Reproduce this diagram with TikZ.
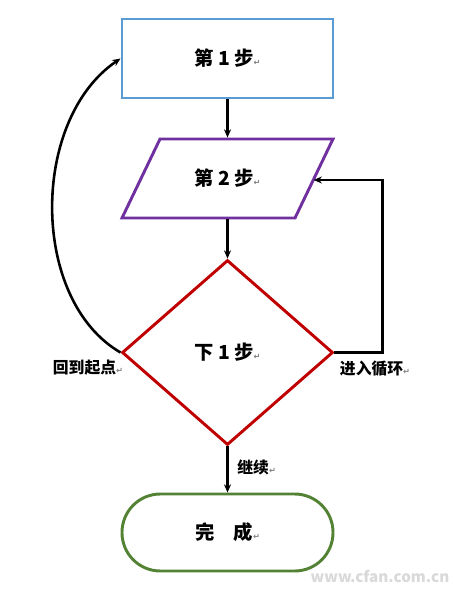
\documentclass[tikz,border=0pt]{standalone}
\usepackage{fontspec}
\setmainfont{Noto Sans CJK SC}
\newfontfamily\symfont{DejaVu Sans}
\usetikzlibrary{shapes.geometric,arrows.meta}
\definecolor{boxblue}{RGB}{91,155,213}
\definecolor{boxpurple}{RGB}{112,48,160}
\definecolor{boxred}{RGB}{192,0,0}
\definecolor{boxgreen}{RGB}{84,130,53}
\newcommand{\pmark}{{\symfont\color{gray}\fontsize{7}{8}\selectfont ↵}}
\begin{document}
\begin{tikzpicture}[
    shapebox/.style={line width=2.5pt, minimum width=6.33cm, inner sep=0pt, font=\fontsize{16.5}{18}\selectfont\bfseries},
    flow/.style={line width=2.2pt, -{Stealth[length=7pt,width=6pt]}},
    lbl/.style={font=\fontsize{13.5}{15}\selectfont\bfseries}]
           \useasboundingbox (0,0) rectangle (13.56,-17.76);
           \node[shapebox, draw=boxblue, rectangle, minimum height=2.37cm] (r1) at (6.825,-1.755) {第 1 步\pmark};
           \draw[line width=2.5pt, boxpurple] (4.8,-4.17)--(9.99,-4.17)--(8.85,-6.54)--(3.66,-6.54)--cycle;
           \node[shapebox, minimum height=2.37cm] (p2) at (6.825,-5.355) {第 2 步\pmark};
           \coordinate (p2r) at (9.41,-5.4);
           \node[shapebox, draw=boxred, diamond, minimum height=5.55cm] (d1) at (6.825,-10.575) {下 1 步\pmark};
           \node[shapebox, draw=boxgreen, rectangle, rounded corners=1.15cm, minimum height=2.31cm] (end) at (6.825,-15.975) {完　成\pmark};
           \draw[flow] (r1.south)--(p2.north);
           \draw[flow] (p2.south)--(d1.north);
           \draw[flow] (d1.south)--(end.north) node[lbl, pos=.45, right=4pt]{继续\pmark};
           \draw[flow] (d1.east)--++(1.44,0)|-(p2r);
           \draw[flow] (d1.west) .. controls (0.9,-9.0) and (0.9,-3.6) .. (r1.west);
           \node[lbl] (back) at (2.64,-11.04) {回到起点\pmark};
           \node[lbl] (loop) at (11.25,-11.07) {进入循环\pmark};
           \node[font=\fontsize{13}{14}\selectfont\bfseries\itshape, text=gray!30] (mark) at (11.4,-17.3) {www.cfan.com.cn};
\end{tikzpicture}
\end{document}
